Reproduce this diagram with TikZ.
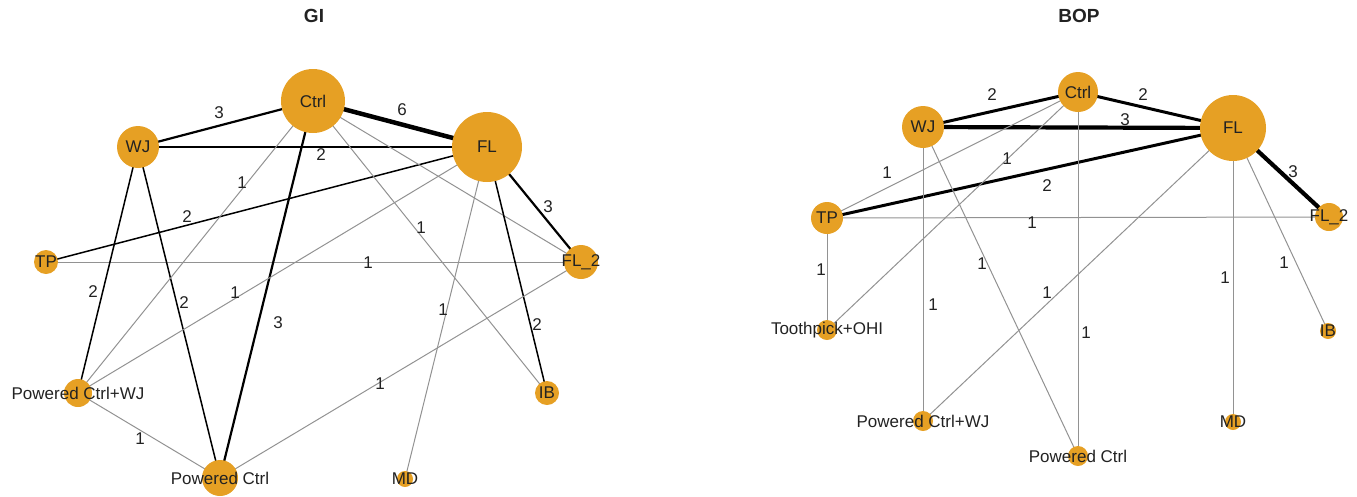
\documentclass[tikz,border=0pt]{standalone}
\usepackage{fontspec}
\setmainfont{Liberation Sans}
\definecolor{vor}{HTML}{E6A024}
\definecolor{txt}{HTML}{222222}
\definecolor{egray}{HTML}{929292}
\pgfdeclarelayer{edges}
\pgfsetlayers{edges,main}
\tikzset{
  vtx/.style={circle, fill=vor, draw=none, inner sep=0pt, minimum size=#1},
  lbl/.style={font=\fontsize{17}{18}\selectfont, text=txt, inner sep=0pt},
  elbl/.style={font=\fontsize{17}{18}\selectfont, text=txt, inner sep=0pt},
  ttl/.style={font=\fontsize{19}{20}\selectfont\bfseries, text=txt},
  eone/.style={draw=egray, line width=1pt},
  gtwo/.style={draw=black, line width=1.5pt},
  gthree/.style={draw=black, line width=2.2pt},
  gsix/.style={draw=black, line width=4.5pt},
  btwo/.style={draw=black, line width=3pt},
  bthree/.style={draw=black, line width=4.2pt}
}
\begin{document}
\begin{tikzpicture}[x=1pt, y=-1pt]
\useasboundingbox (0,0) rectangle (1357,496);

% titles
\node[ttl] (tGI) at (314,16) {GI};
\node[ttl] (tBOP) at (1079,16) {BOP};

% ---------- GI nodes ----------
\node[vtx=64pt, label={[lbl]center:Ctrl}] (gCtrl) at (313,101) {};
\node[vtx=42pt, label={[lbl]center:WJ}] (gWJ) at (138,147) {};
\node[vtx=70pt, label={[lbl]center:FL}] (gFL) at (487,147) {};
\node[vtx=34pt, label={[lbl]center:FL\_2}] (gFLb) at (581,262) {};
\node[vtx=24pt, label={[lbl]center:TP}] (gTP) at (46,262) {};
\node[vtx=28pt, label={[lbl]center:Powered Ctrl+WJ}] (gPCWJ) at (78,393) {};
\node[vtx=36pt, label={[lbl]center:Powered Ctrl}] (gPC) at (220,478) {};
\node[vtx=16pt, label={[lbl]center:MD}] (gMD) at (405,479) {};
\node[vtx=24pt, label={[lbl]center:IB}] (gIB) at (547,393) {};

% ---------- BOP nodes ----------
\node[vtx=42pt, label={[lbl]center:WJ}] (bWJ) at (923,127) {};
\node[vtx=40pt, label={[lbl]center:Ctrl}] (bCtrl) at (1078,92) {};
\node[vtx=66pt, label={[lbl]center:FL}] (bFL) at (1233,128) {};
\node[vtx=32pt, label={[lbl]center:TP}] (bTP) at (827,218) {};
\node[vtx=28pt, label={[lbl]center:FL\_2}] (bFLb) at (1329,217) {};
\node[vtx=20pt, label={[lbl]center:Toothpick+OHI}] (bTOHI) at (827,330) {};
\node[vtx=20pt, label={[lbl]center:Powered Ctrl+WJ}] (bPCWJ) at (923,421) {};
\node[vtx=20pt, label={[lbl]center:Powered Ctrl}] (bPC) at (1078,456) {};
\node[vtx=16pt, label={[lbl]center:MD}] (bMD) at (1233,422) {};
\node[vtx=16pt, label={[lbl]center:IB}] (bIB) at (1328,331) {};

\begin{pgfonlayer}{edges}
% ---------- GI edges ----------
\draw[gthree] (gCtrl.center) -- (gWJ.center) node[elbl] at (219,113) {3};
\draw[gsix] (gCtrl.center) -- (gFL.center) node[elbl] at (402,110) {6};
\draw[gtwo] (gWJ.center) -- (gFL.center) node[elbl] at (321,155) {2};
\draw[gthree] (gFL.center) -- (gFLb.center) node[elbl] at (548,207) {3};
\draw[gtwo] (gTP.center) -- (gFL.center) node[elbl] at (187,217) {2};
\draw[eone] (gTP.center) -- (gFLb.center) node[elbl] at (368,263) {1};
\draw[gtwo] (gWJ.center) -- (gPCWJ.center) node[elbl] at (93,292) {2};
\draw[gtwo] (gWJ.center) -- (gPC.center) node[elbl] at (184,303) {2};
\draw[eone] (gCtrl.center) -- (gPCWJ.center) node[elbl] at (242,183) {1};
\draw[gthree] (gCtrl.center) -- (gPC.center) node[elbl] at (278,323) {3};
\draw[eone] (gCtrl.center) -- (gIB.center) node[elbl] at (421,228) {1};
\draw[eone] (gCtrl.center) -- (gFLb.center);
\draw[eone] (gFL.center) -- (gPCWJ.center) node[elbl] at (235,293) {1};
\draw[eone] (gFL.center) -- (gMD.center) node[elbl] at (443,310) {1};
\draw[gtwo] (gFL.center) -- (gIB.center) node[elbl] at (537,325) {2};
\draw[eone] (gFLb.center) -- (gPC.center) node[elbl] at (380,384) {1};
\draw[eone] (gPCWJ.center) -- (gPC.center) node[elbl] at (140,439) {1};

% ---------- BOP edges ----------
\draw[btwo] (bWJ.center) -- (bCtrl.center) node[elbl] at (992,95) {2};
\draw[btwo] (bCtrl.center) -- (bFL.center) node[elbl] at (1143,95) {2};
\draw[bthree] (bWJ.center) -- (bFL.center) node[elbl] at (1125,120) {3};
\draw[btwo] (bTP.center) -- (bFL.center) node[elbl] at (1047,186) {2};
\draw[bthree] (bFL.center) -- (bFLb.center) node[elbl] at (1293,172) {3};
\draw[eone] (bTP.center) -- (bCtrl.center) node[elbl] at (887,173) {1};
\draw[eone] (bCtrl.center) -- (bTOHI.center) node[elbl] at (1007,159) {1};
\draw[eone] (bTP.center) -- (bFLb.center) node[elbl] at (1032,223) {1};
\draw[eone] (bTP.center) -- (bTOHI.center) node[elbl] at (821,270) {1};
\draw[eone] (bWJ.center) -- (bPCWJ.center) node[elbl] at (933,305) {1};
\draw[eone] (bWJ.center) -- (bPC.center) node[elbl] at (982,264) {1};
\draw[eone] (bCtrl.center) -- (bPC.center) node[elbl] at (1086,333) {1};
\draw[eone] (bFL.center) -- (bPCWJ.center) node[elbl] at (1047,293) {1};
\draw[eone] (bFL.center) -- (bMD.center) node[elbl] at (1225,278) {1};
\draw[eone] (bFL.center) -- (bIB.center) node[elbl] at (1284,263) {1};
\end{pgfonlayer}
\end{tikzpicture}
\end{document}
